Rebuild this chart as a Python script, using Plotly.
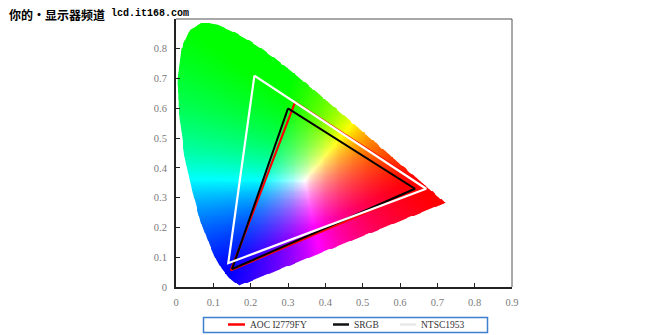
import numpy as np
import plotly.graph_objects as go

# Spectral locus outline as drawn in the picture (x, y chromaticity)
LOCUS_X = [0.1710, 0.1683, 0.1614, 0.1538, 0.1414, 0.1219, 0.1076, 0.0897, 0.0675, 0.0446,
           0.0231, 0.0081, 0.0038, 0.0136, 0.0382, 0.0730, 0.1121, 0.1519, 0.1894, 0.2255,
           0.2610, 0.2962, 0.3312, 0.3664, 0.4361, 0.5033, 0.5648, 0.6157, 0.6538, 0.6791,
           0.7061, 0.7215]
LOCUS_Y = [0.0053, 0.0054, 0.0116, 0.0189, 0.0316, 0.0616, 0.0924, 0.1413, 0.2137, 0.3142,
           0.4395, 0.5734, 0.6974, 0.7990, 0.8648, 0.8880, 0.8799, 0.8583, 0.8324, 0.8033,
           0.7714, 0.7373, 0.7017, 0.6651, 0.5908, 0.5182, 0.4518, 0.3967, 0.3557, 0.3283,
           0.2992, 0.2825]

# Gamut triangles (G, R, B)
AOC_X = [0.319, 0.668, 0.147]
AOC_Y = [0.621, 0.336, 0.056]
SRGB_X = [0.300, 0.640, 0.150]
SRGB_Y = [0.600, 0.330, 0.060]
NTSC_X = [0.210, 0.670, 0.140]
NTSC_Y = [0.710, 0.330, 0.080]

SERIES_NAMES = ["AOC I2779FY", "SRGB", "NTSC1953"]

X_TICKS = [0, 0.1, 0.2, 0.3, 0.4, 0.5, 0.6, 0.7, 0.8, 0.9]
X_TICK_LABELS = ["0", "0.1", "0.2", "0.3", "0.4", "0.5", "0.6", "0.7", "0.8", "0.9"]
Y_TICKS = [0, 0.1, 0.2, 0.3, 0.4, 0.5, 0.6, 0.7, 0.8, 0.9]
# the 0.9 label is hidden under the site caption in the picture
Y_TICK_LABELS = ["0", "0.1", "0.2", "0.3", "0.4", "0.5", "0.6", "0.7", "0.8", ""]

TITLE_CN = "你的•显示器频道"
TITLE_URL = "lcd.it168.com"

# ---------- colour image of the diagram ----------
vx = np.array(LOCUS_X)
vy = np.array(LOCUS_Y)


def inside(px, py):
    res = np.zeros(px.shape, dtype=bool)
    n = len(vx)
    j = n - 1
    for i in range(n):
        cond = ((vy[i] > py) != (vy[j] > py)) & (
            px < (vx[j] - vx[i]) * (py - vy[i]) / (vy[j] - vy[i] + 1e-12) + vx[i])
        res ^= cond
        j = i
    return res


dx = 0.0025
dy = 0.003
nx = int(0.74 / dx)
ny = int(0.90 / dy)
xc = (np.arange(nx) + 0.5) * dx
yc = (np.arange(ny) + 0.5) * dy
XX, YY = np.meshgrid(xc, yc)

# anti-aliased mask via supersampling
ss = 3
alpha = np.zeros(XX.shape)
for a in range(ss):
    for b in range(ss):
        ox = (a + 0.5) / ss - 0.5
        oy = (b + 0.5) / ss - 0.5
        alpha += inside(XX + ox * dx, YY + oy * dy)
alpha /= ss * ss

# colour: undo the drawing stretch, go to XYZ, then sRGB, normalise
xt = XX / 0.982
yt = np.maximum(YY / 1.065, 1e-4)
Xc = xt / yt
Yc = np.ones_like(xt)
Zc = (1 - xt - yt) / yt
R = 3.2406 * Xc - 1.5372 * Yc - 0.4986 * Zc
G = -0.9689 * Xc + 1.8758 * Yc + 0.0415 * Zc
B = 0.0557 * Xc - 0.2040 * Yc + 1.0570 * Zc
R /= 1.3798
G /= 0.9025
B /= 0.8481
rgb = np.stack([R, G, B], axis=-1)
rgb = np.clip(rgb, 0, None)
mx = rgb.max(axis=-1, keepdims=True)
mx[mx == 0] = 1
rgb = rgb / mx
rgb = np.round(rgb * 255)

img = np.concatenate([rgb, alpha[..., None]], axis=-1)
img = np.round(img, 3)

fig = go.Figure()
fig.add_trace(go.Image(z=img.tolist(), colormodel="rgba", x0=dx / 2, dx=dx, y0=dy / 2, dy=dy,
                       zsmooth="fast", hoverinfo="skip"))


def closed(a):
    return list(a) + [a[0]]


fig.add_trace(go.Scatter(x=closed(AOC_X), y=closed(AOC_Y), mode="lines", name=SERIES_NAMES[0],
                         line=dict(color="#ff0000", width=2.2), showlegend=False))
fig.add_trace(go.Scatter(x=closed(SRGB_X), y=closed(SRGB_Y), mode="lines", name=SERIES_NAMES[1],
                         line=dict(color="#000000", width=2), showlegend=False))
fig.add_trace(go.Scatter(x=closed(NTSC_X), y=closed(NTSC_Y), mode="lines", name=SERIES_NAMES[2],
                         line=dict(color="#ffffff", width=2.2), showlegend=False))

tickfont = dict(family="Liberation Serif", size=10.5, color="#7a7a7a")
fig.update_xaxes(range=[0, 0.9], autorange=False, tickvals=X_TICKS, ticktext=X_TICK_LABELS,
                 ticks="inside", ticklen=4, tickwidth=1, tickcolor="#222",
                 showline=True, linecolor="#222", linewidth=2, showgrid=False, zeroline=False,
                 tickfont=tickfont, ticklabelstandoff=4)
fig.update_yaxes(range=[0, 0.9], autorange=False, scaleanchor=False, tickvals=Y_TICKS,
                 ticktext=Y_TICK_LABELS, ticks="inside", ticklen=4, tickwidth=1, tickcolor="#222",
                 showline=True, linecolor="#222", linewidth=2, showgrid=False, zeroline=False,
                 tickfont=tickfont, ticklabelstandoff=5)

L, Rm, T, Bm = 176, 158, 19, 48
W, H = 670, 335
pw = W - L - Rm
ph = H - T - Bm


def px2x(p):
    return (p - L) / pw


def py2y(p):
    return (H - Bm - p) / ph


shapes = [
    dict(type="line", xref="paper", yref="paper", x0=0, x1=1, y0=1, y1=1,
         line=dict(color="#a8a8a8", width=2)),
    dict(type="line", xref="paper", yref="paper", x0=1, x1=1, y0=0, y1=1,
         line=dict(color="#555555", width=1)),
    # legend box
    dict(type="rect", xref="paper", yref="paper", x0=px2x(203.5), x1=px2x(487.5),
         y0=py2y(332.5), y1=py2y(317.5), line=dict(color="#3f7fd0", width=1.5),
         fillcolor="rgba(0,0,0,0)"),
]
ly = py2y(324.5)
legend_items = [
    (SERIES_NAMES[0], "#ff0000", 228, 245, 248),
    (SERIES_NAMES[1], "#111111", 333, 349, 352),
    (SERIES_NAMES[2], "#e8e8e8", 400, 416, 419),
]
annotations = []
for name, col, a0, a1, t0 in legend_items:
    shapes.append(dict(type="line", xref="paper", yref="paper", x0=px2x(a0), x1=px2x(a1),
                       y0=ly, y1=ly, line=dict(color=col, width=2.5)))
    annotations.append(dict(xref="paper", yref="paper", x=px2x(t0), y=ly, xanchor="left",
                            yanchor="middle", text=name, showarrow=False,
                            font=dict(family="Liberation Serif", size=9.5, color="#333333")))

shadow = "1px 1px 0 #fff, -1px -1px 0 #fff, 1px -1px 0 #fff, -1px 1px 0 #fff"
annotations.append(dict(xref="paper", yref="paper", x=px2x(7), y=py2y(15), xanchor="left",
                        yanchor="middle", text="<b>" + TITLE_CN + "</b>", showarrow=False,
                        font=dict(family="Noto Sans CJK SC", size=12, color="#000", shadow=shadow)))
annotations.append(dict(xref="paper", yref="paper", x=px2x(109), y=py2y(14), xanchor="left",
                        yanchor="middle", text="<b>" + TITLE_URL + "</b>", showarrow=False,
                        font=dict(family="Liberation Mono", size=10, color="#000", shadow=shadow)))

fig.update_layout(width=W, height=H, margin=dict(l=L, r=Rm, t=T, b=Bm, pad=0),
                  paper_bgcolor="white", plot_bgcolor="white", showlegend=False,
                  shapes=shapes, annotations=annotations)

fig.write_html("out.html")
